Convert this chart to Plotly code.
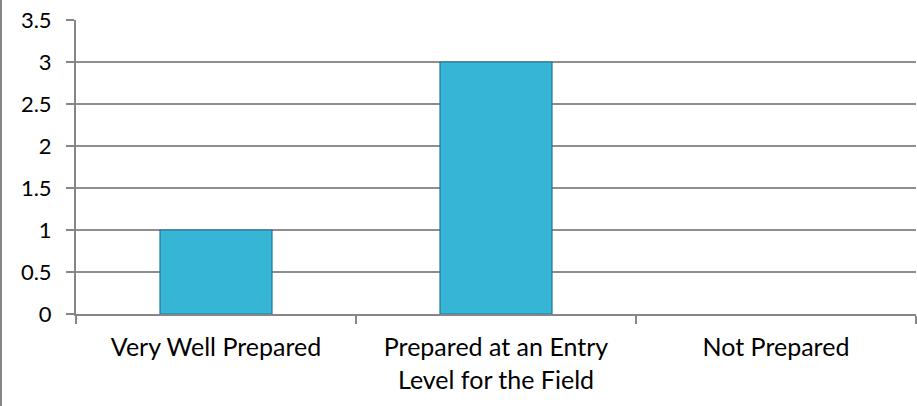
import plotly.graph_objects as go

categories = ["Very Well Prepared", "Prepared at an Entry<br>Level for the Field", "Not Prepared"]
values = [1, 3, 0]
y_ticks = [0, 0.5, 1, 1.5, 2, 2.5, 3, 3.5]
y_tick_labels = ["0", "0.5", "1", "1.5", "2", "2.5", "3", "3.5"]

fig = go.Figure()
fig.add_trace(go.Bar(
    x=categories, y=values,
    marker=dict(color="#37B5D6",
                line=dict(color="#1E7890", width=[1.2 if v > 0 else 0 for v in values])),
    width=0.40,
    hoverinfo="skip",
))

xfont = dict(family="Lato, Carlito, sans-serif", size=25, color="#000000")
yfont = dict(family="Lato, Carlito, sans-serif", size=22, color="#000000")

fig.update_layout(
    width=917, height=406,
    margin=dict(l=76, r=1, t=20, b=92),
    paper_bgcolor="white", plot_bgcolor="white",
    showlegend=False,
    font=xfont,
    bargap=0.6,
)
fig.update_xaxes(
    type="category", automargin=False,
    showline=True, linecolor="#868686", linewidth=2,
    ticks="outside", tickson="boundaries", ticklen=8, tickcolor="#868686", tickwidth=2,
    showgrid=False,
    tickfont=xfont,
    ticklabelstandoff=10,
)
fig.update_yaxes(
    range=[0, 3.5], automargin=False,
    tickvals=y_ticks, ticktext=y_tick_labels,
    showline=True, linecolor="#868686", linewidth=2,
    ticks="outside", ticklen=8, tickcolor="#868686", tickwidth=2,
    showgrid=True, gridcolor="#8E8E8E", gridwidth=1.5,
    zeroline=False,
    tickfont=yfont,
    ticklabelstandoff=10,
)
fig.add_shape(type="line", xref="paper", yref="paper",
              x0=-75/840, x1=-75/840, y0=-92/294, y1=1 + 20/294,
              line=dict(color="#868686", width=2))

fig.write_html("out.html", config={"displayModeBar": False},
               post_script="document.body.style.margin='0';")
